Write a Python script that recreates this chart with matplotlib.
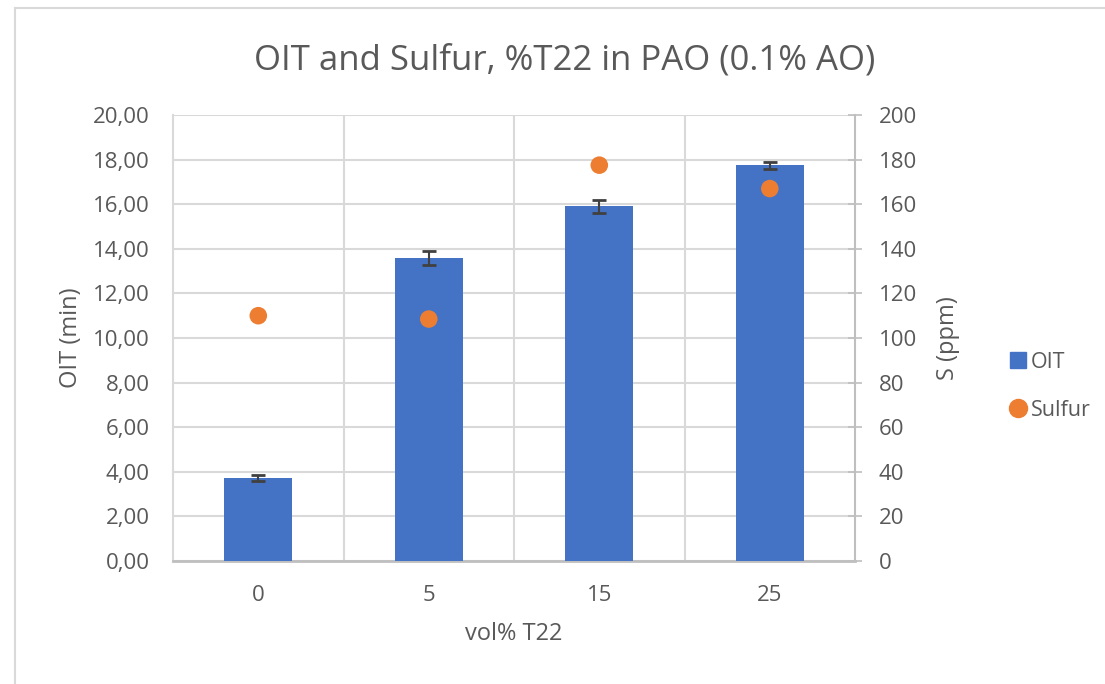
import matplotlib
matplotlib.use("Agg")
import matplotlib.pyplot as plt
from matplotlib.ticker import FuncFormatter, MultipleLocator
from matplotlib.lines import Line2D

categories = ["0", "5", "15", "25"]
oit = [3.72, 13.6, 15.9, 17.75]
oit_err = [0.12, 0.32, 0.31, 0.15]
sulfur = [110, 108.5, 177.5, 167]

plt.rcParams['font.family'] = ['Open Sans', 'DejaVu Sans']
gray_txt = '#595959'
grid_c = '#d9d9d9'

fig = plt.figure(figsize=(11.05, 6.84), dpi=100)
ax = fig.add_axes([0.1566, 0.1798, 0.6172, 0.6521])
x = list(range(len(categories)))
ax.bar(x, oit, width=0.4, color='#4472c4', zorder=3)
ax.errorbar(x, oit, yerr=oit_err, fmt='none', ecolor='#404040', elinewidth=1.5,
            capsize=5, capthick=2, zorder=4)
ax.set_xlim(-0.5, 3.5)
ax.set_ylim(0, 20)
ax.yaxis.set_major_locator(MultipleLocator(2))
ax.yaxis.set_major_formatter(FuncFormatter(lambda v, p: f"{v:.2f}".replace('.', ',')))
ax.set_xticks(x)
ax.set_xticklabels(categories)
ax.set_xticks([0.5, 1.5, 2.5], minor=True)
ax.grid(True, axis='y', which='major', color=grid_c, lw=1.5, zorder=0)
ax.grid(True, axis='x', which='minor', color=grid_c, lw=1.5, zorder=0)
ax.tick_params(axis='both', which='both', length=0, labelsize=16, labelcolor=gray_txt)
ax.tick_params(axis='y', pad=17)
ax.tick_params(axis='x', pad=17)
for s in ['top', 'right']:
    ax.spines[s].set_visible(False)
ax.spines['left'].set_color(grid_c)
ax.spines['left'].set_linewidth(1.5)
ax.spines['bottom'].set_color('#bfbfbf')
ax.spines['bottom'].set_linewidth(2)
ax.set_ylabel('OIT (min)', fontsize=17, color=gray_txt, labelpad=7)
ax.set_xlabel('vol% T22', fontsize=17, color=gray_txt, labelpad=12)

ax2 = ax.twinx()
ax2.scatter(x, sulfur, s=160, color='#ed7d31', zorder=5, edgecolors='none')
ax2.set_ylim(0, 200)
ax2.yaxis.set_major_locator(MultipleLocator(20))
ax2.tick_params(axis='y', direction='inout', length=10, width=1.2, color='#bfbfbf',
                labelsize=16, labelcolor=gray_txt, pad=12)
for s in ['top', 'left', 'bottom']:
    ax2.spines[s].set_visible(False)
ax2.spines['right'].set_color('#bfbfbf')
ax2.spines['right'].set_linewidth(1.5)
ax2.set_ylabel('S (ppm)', fontsize=17, color=gray_txt, labelpad=14)

fig.text(0.511, 0.912, 'OIT and Sulfur, %T22 in PAO (0.1% AO)', ha='center', va='center',
         fontsize=25, color=gray_txt)

handles = [Line2D([], [], marker='s', color='#4472c4', ls='none', markersize=11),
           Line2D([], [], marker='o', color='#ed7d31', ls='none', markersize=13)]
fig.legend(handles, ['OIT', 'Sulfur'], loc='center left', bbox_to_anchor=(0.894, 0.435),
           frameon=False, fontsize=15.5, labelcolor=gray_txt, handletextpad=0.1,
           labelspacing=1.25, handlelength=1.0)

# outer frame lines
fig.add_artist(Line2D([0.0136, 0.0136], [0, 0.988], transform=fig.transFigure, color=grid_c, lw=1.5))
fig.add_artist(Line2D([0.0136, 1.0], [0.988, 0.988], transform=fig.transFigure, color=grid_c, lw=1.5))

fig.savefig('out.png', dpi=100, facecolor='white')
